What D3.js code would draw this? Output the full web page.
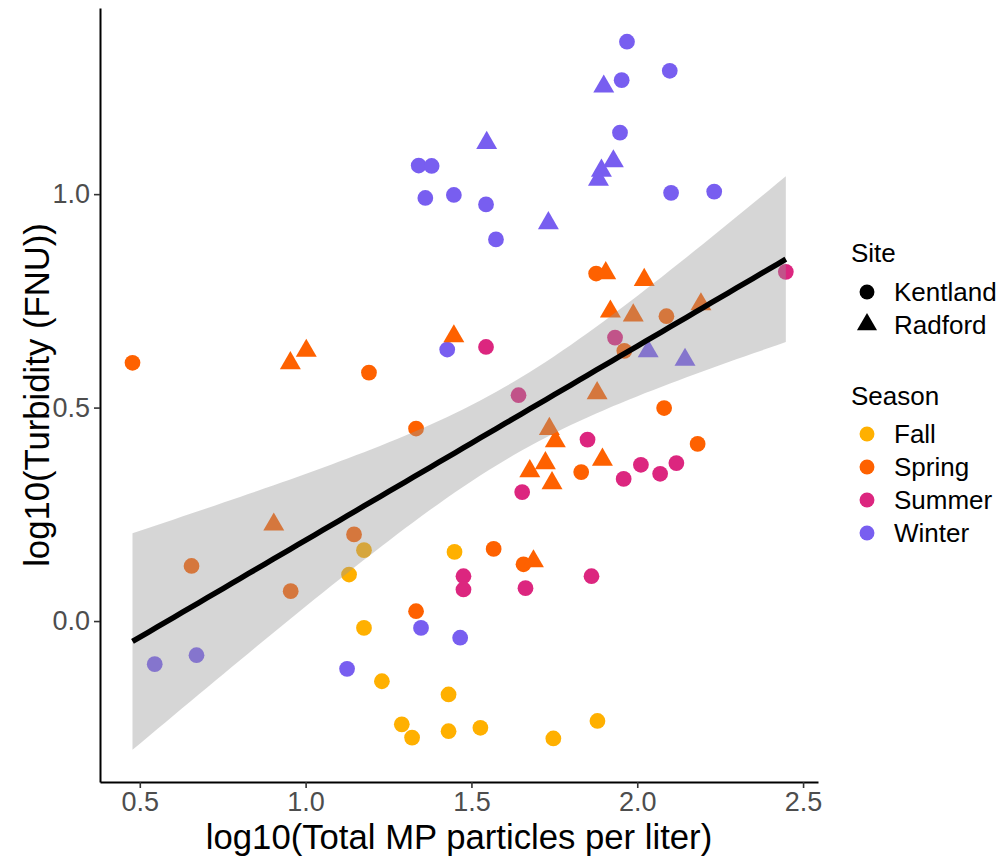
<!DOCTYPE html>
<html lang="en">
<head>
<meta charset="utf-8">
<title>Turbidity vs MP particles</title>
<script src="https://cdn.jsdelivr.net/npm/d3@7/dist/d3.min.js"></script>
<style>
  body { margin: 0; background: #fff; }
  svg text { font-family: "Liberation Sans", Arial, sans-serif; }
</style>
</head>
<body>
<div id="chart"></div>
<script>
// log10(Total MP particles per liter)
let xVals = [
  1.969, 2.098, 1.953, 1.899, 1.948, 1.546, 1.928, 1.892, 1.883, 1.341, 1.380, 1.361, 1.447,
  1.544, 1.574, 2.102, 2.232, 1.732, 1.427, 2.033, 2.144, 1.348, 1.466, 0.545, 0.671, 1.125,
  0.478, 0.954, 1.002, 1.191, 1.447, 1.876, 1.905, 2.021, 1.919, 1.988, 2.088, 2.192, 1.961,
  1.879, 2.081, 1.735, 1.753, 2.182, 1.895, 1.723, 1.676, 1.831, 1.743, 1.567, 1.657, 1.687,
  1.333, 0.904, 0.656, 1.146, 0.955, 1.333,
  1.544, 1.933, 2.448, 1.642, 1.850, 2.011, 2.118, 2.069, 1.959, 1.653, 1.476, 1.476, 1.663, 1.862,
  1.449, 1.176, 1.131, 1.176, 1.230, 1.431, 1.290, 1.321, 1.431, 1.527, 1.747, 1.880
]
// log10(Turbidity (FNU))
let yVals = [
  1.357, 1.289, 1.267, 1.252, 1.144, 1.120, 1.077, 1.055, 1.034, 1.067, 1.066, 0.991, 0.998,
  0.976, 0.894, 1.003, 1.006, 0.932, 0.636, 0.632, 0.612, -0.016, -0.039, -0.101, -0.080, -0.112,
  0.605, 0.604, 0.633, 0.582, 0.667, 0.814, 0.815, 0.799, 0.725, 0.716, 0.714, 0.742, 0.633,
  0.534, 0.499, 0.450, 0.421, 0.415, 0.378, 0.370, 0.351, 0.349, 0.323, 0.169, 0.133, 0.140,
  0.451, 0.226, 0.129, 0.203, 0.070, 0.023,
  0.642, 0.664, 0.818, 0.529, 0.425, 0.366, 0.370, 0.345, 0.333, 0.302, 0.105, 0.074, 0.077, 0.105,
  0.162, 0.166, 0.109, -0.016, -0.141, -0.172, -0.242, -0.273, -0.258, -0.250, -0.275, -0.234
]
let siteVals = [
  "K","K","K","R","K","R","R","R","R","K","K","K","K",
  "K","K","K","K","R","K","R","R","K","K","K","K","K",
  "K","R","R","K","R","K","R","R","R","R","K","R","K",
  "R","K","R","R","K","R","R","R","K","R","K","K","R",
  "K","R","K","K","K","K",
  "K","K","K","K","K","K","K","K","K","K","K","K","K","K",
  "K","K","K","K","K","K","K","K","K","K","K","K"
]
let seasonVals = [].concat(
  Array(26).fill("Winter"),
  Array(32).fill("Spring"),
  Array(14).fill("Summer"),
  Array(12).fill("Fall")
)

let siteNames = {K: "Kentland", R: "Radford"}
let seasons = ["Fall", "Spring", "Summer", "Winter"]
let seasonColors = ["#FFB000", "#FE6100", "#DC267F", "#785EF0"]
let xTicks = [0.5, 1.0, 1.5, 2.0, 2.5]
let yTicks = [0.0, 0.5, 1.0]

let w = 1003, h = 860
let mLeft = 100, mRight = 818, mTop = 8, mBottom = 782

let svg = d3.select("#chart").append("svg")
    .attr("width", w)
    .attr("height", h)

let x = d3.scaleLinear().domain([0.380, 2.545]).range([mLeft, mRight])
let y = d3.scaleLinear().domain([-0.377, 1.436]).range([mBottom, mTop])
let color = d3.scaleOrdinal().domain(seasons).range(seasonColors)
let shape = d3.scaleOrdinal().domain(["K", "R"]).range([d3.symbolCircle, d3.symbolTriangle])

let data = xVals.map(function(d, i) {
  return {x: d, y: yVals[i], site: siteVals[i], season: seasonVals[i]}
})

// points
svg.append("g").selectAll("path")
    .data(data)
  .enter().append("path")
    .attr("transform", d => "translate(" + x(d.x) + "," + y(d.y) + ")")
    .attr("d", d => d3.symbol().type(shape(d.site)).size(d.site == "K" ? 195 : 190)())
    .attr("fill", d => color(d.season))

// linear fit with 95% band
let n = data.length
let mx = d3.mean(xVals), my = d3.mean(yVals)
let sxx = d3.sum(xVals, d => (d - mx) * (d - mx))
let sxy = d3.sum(data, d => (d.x - mx) * (d.y - my))
let slope = sxy / sxx
let icpt = my - slope * mx
let sse = d3.sum(data, d => Math.pow(d.y - (icpt + slope * d.x), 2))
let s = Math.sqrt(sse / (n - 2))
let tq = 1.989
let x0 = d3.min(xVals), x1 = d3.max(xVals)
let grid = d3.range(80).map(i => x0 + (x1 - x0) * i / 79)
let fit = grid.map(function(gx) {
  let f = icpt + slope * gx
  let se = s * Math.sqrt(1 / n + (gx - mx) * (gx - mx) / sxx)
  return {x: gx, y: f, lo: f - tq * se, hi: f + tq * se}
})

svg.append("path")
    .datum(fit)
    .attr("fill", "#999999")
    .attr("fill-opacity", 0.4)
    .attr("d", d3.area().x(d => x(d.x)).y0(d => y(d.lo)).y1(d => y(d.hi)))

svg.append("path")
    .datum(fit)
    .attr("fill", "none")
    .attr("stroke", "#000")
    .attr("stroke-width", 5.5)
    .attr("d", d3.line().x(d => x(d.x)).y(d => y(d.y)))

// axes
svg.append("g")
    .attr("transform", "translate(0," + mBottom + ")")
    .call(d3.axisBottom(x).tickValues(xTicks).tickFormat(d3.format(".1f"))
      .tickSizeInner(6).tickSizeOuter(0).tickPadding(4))
svg.append("g")
    .attr("transform", "translate(" + mLeft + ",0)")
    .call(d3.axisLeft(y).tickValues(yTicks).tickFormat(d3.format(".1f"))
      .tickSizeInner(6).tickSizeOuter(0).tickPadding(4))

svg.selectAll(".domain").attr("stroke", "#000").attr("stroke-width", 2)
svg.selectAll(".tick line").attr("stroke", "#333").attr("stroke-width", 1.6)
svg.selectAll(".tick text")
    .attr("fill", "#4D4D4D")
    .style("font-size", "27px")

svg.append("text")
    .attr("x", (mLeft + mRight) / 2)
    .attr("y", 849)
    .attr("text-anchor", "middle")
    .style("font-size", "34.7px")
    .text("log10(Total MP particles per liter)")

svg.append("text")
    .attr("transform", "translate(49," + (mTop + mBottom) / 2 + ") rotate(-90)")
    .attr("text-anchor", "middle")
    .style("font-size", "34.7px")
    .text("log10(Turbidity (FNU))")

// legends
let lg = svg.append("g")
lg.append("text").attr("x", 851).attr("y", 262).style("font-size", "26px").text("Site")
let sites = ["K", "R"]
sites.forEach(function(k, i) {
  let cy = 292 + i * 32.5
  lg.append("path")
      .attr("transform", "translate(867," + cy + ")")
      .attr("d", d3.symbol().type(shape(k)).size(175)())
      .attr("fill", "#000")
  lg.append("text").attr("x", 894).attr("y", cy + 9).style("font-size", "26px").text(siteNames[k])
})

lg.append("text").attr("x", 851).attr("y", 405).style("font-size", "26px").text("Season")
seasons.forEach(function(sn, i) {
  let cy = 434 + i * 33
  lg.append("path")
      .attr("transform", "translate(867," + cy + ")")
      .attr("d", d3.symbol().type(d3.symbolCircle).size(175)())
      .attr("fill", color(sn))
  lg.append("text").attr("x", 894).attr("y", cy + 9).style("font-size", "26px").text(sn)
})
</script>
</body>
</html>
